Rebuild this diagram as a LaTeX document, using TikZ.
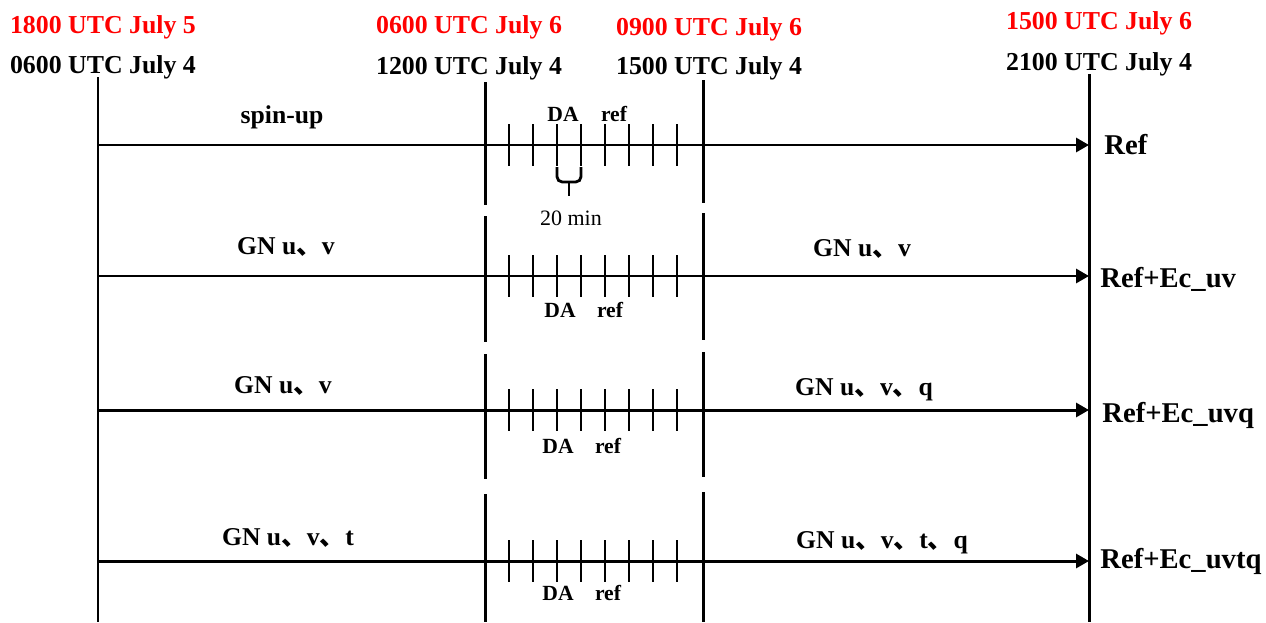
\documentclass[tikz,border=0pt]{standalone}
\usepackage{fontspec}
\setmainfont{Liberation Serif}
\newfontfamily\cjk{Noto Sans CJK SC}
\usetikzlibrary{arrows.meta,positioning}
\usepackage{xcolor}
\definecolor{timered}{RGB}{255,0,0}
\newcommand{\dun}{{\cjk 、}}

\begin{document}
\begin{tikzpicture}[
    x=0.02cm, y=-0.02cm,
    lineblk/.style={line width=1.7pt, black},
    arr/.style={-{Triangle[length=0.26cm, width=0.28cm]}, line width=1.7pt},
    tickmark/.style={line width=1.6pt},
    timeold/.style={font=\bfseries\fontsize{14.7}{16}\selectfont, anchor=base, inner sep=0pt},
    timenew/.style={timeold, text=timered},
    fieldlabel/.style={font=\bfseries\fontsize{14.6}{16}\selectfont, anchor=base, inner sep=0pt},
    dalabel/.style={font=\bfseries\fontsize{12.3}{14}\selectfont, anchor=base, inner sep=0pt},
    expname/.style={font=\bfseries\fontsize{16.3}{18}\selectfont, anchor=base west, inner sep=0pt}
]
\useasboundingbox (0,0) rectangle (1266,622);

% time labels
\node[timenew] (r1) at (103,33) {1800 UTC July 5};
\node[timeold] (b1) at (103,73) {0600 UTC July 4};
\node[timenew] (r2) at (469,33) {0600 UTC July 6};
\node[timeold] (b2) at (469,74) {1200 UTC July 4};
\node[timenew] (r3) at (709,35) {0900 UTC July 6};
\node[timeold] (b3) at (709,74) {1500 UTC July 4};
\node[timenew] (r4) at (1099,30) {1500 UTC July 6};
\node[timeold] (b4) at (1099,70) {2100 UTC July 4};

% time lines
\draw[lineblk] (98,77) -- (98,622);
\draw[lineblk] (1089,74) -- (1089,622);
\foreach \ya/\yb in {82/205, 216/342, 354/479, 494/622}
    \draw[lineblk] (485,\ya) -- (485,\yb);
\foreach \ya/\yb in {80/203, 213/340, 352/477, 492/622}
    \draw[lineblk] (703,\ya) -- (703,\yb);

% experiments
\coordinate (s1) at (98,145);  \coordinate (e1) at (1089,145);
\coordinate (s2) at (98,276);  \coordinate (e2) at (1089,276);
\coordinate (s3) at (98,410);  \coordinate (e3) at (1089,410);
\coordinate (s4) at (98,561);  \coordinate (e4) at (1089,561);
\draw[arr] (s1) -- (e1);
\draw[arr] (s2) -- (e2);
\draw[arr] (s3) -- (e3);
\draw[arr] (s4) -- (e4);
\foreach \y in {145,276,410,561}
    \foreach \x in {509,533,...,677}
        \draw[tickmark] (\x,{\y-21}) -- (\x,{\y+21});

\node[fieldlabel] (spin) at (282,123) {spin-up};
\node[fieldlabel] (gn2a) at (286,254) {GN u\dun v};
\node[fieldlabel] (gn2b) at (862,256) {GN u\dun v};
\node[fieldlabel] (gn3a) at (283,393) {GN u\dun v};
\node[fieldlabel] (gn3b) at (864,395) {GN u\dun v\dun q};
\node[fieldlabel] (gn4a) at (288,545) {GN u\dun v\dun t};
\node[fieldlabel] (gn4b) at (882,548) {GN u\dun v\dun t\dun q};

\node[dalabel] (da1) at (563,121) {DA};
\node[dalabel] (rf1) at (614,121) {ref};
\node[dalabel] (da2) at (560,317) {DA};
\node[dalabel] (rf2) at (610,317) {ref};
\node[dalabel] (da3) at (558,453) {DA};
\node[dalabel] (rf3) at (608,453) {ref};
\node[dalabel] (da4) at (558,600) {DA};
\node[dalabel] (rf4) at (608,600) {ref};

% 20 min interval
\draw[tickmark, rounded corners=3pt] (557,167) -- (557,182) -- (581,182) -- (581,167);
\draw[tickmark] (569,182) -- (569,196);
\node[font=\fontsize{12.5}{14}\selectfont, anchor=base, inner sep=0pt] (gap) at (571,225) {20 min};

\node[expname] (x1) at (1104,154) {Ref};
\node[expname] (x2) at (1100,287) {Ref+Ec\_uv};
\node[expname] (x3) at (1102,422) {Ref+Ec\_uvq};
\node[expname] (x4) at (1100,568) {Ref+Ec\_uvtq};
\end{tikzpicture}
\end{document}
